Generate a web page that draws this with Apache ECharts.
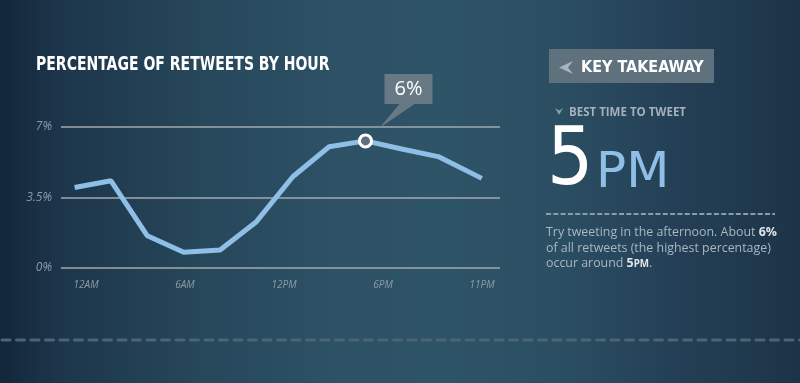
<!DOCTYPE html>
<html><head><meta charset="utf-8">
<script src="https://cdn.jsdelivr.net/npm/echarts@6/dist/echarts.min.js"></script>
<style>
html,body{margin:0;padding:0;background:#1d364a;}
#c{width:800px;height:383px;background:linear-gradient(to right,#13263a 0%,#1c354a 7%,#27475b 25%,#2d5165 42%,#2e5467 55%,#2b4e62 70%,#243f55 85%,#1c3447 100%);}
</style></head><body><div id="c"></div>
<script>
// ---- data ----
const hours = [0, 2, 4, 6, 8, 10, 12, 14, 16, 18, 20, 22.4];
const retweetPct = [4.0, 4.33, 1.6, 0.78, 0.89, 2.3, 4.53, 6.02, 6.31, 5.91, 5.53, 4.45];
const xTickLabels = ['12AM', '6AM', '12PM', '6PM', '11PM'];
const yTicks = [0, 3.5, 7];
const peakLabel = '6%';
const titleText = 'PERCENTAGE OF RETWEETS BY HOUR';

const COND = '"DejaVu Sans Condensed", "Liberation Sans Narrow", sans-serif';
const peakIdx = retweetPct.indexOf(Math.max(...retweetPct));
const lineData = hours.map((h, i) => i === peakIdx
  ? { value: [h, retweetPct[i]], symbol: 'circle', symbolSize: 12,
      itemStyle: { color: '#5f6f7b', borderColor: '#ffffff', borderWidth: 3 } }
  : [h, retweetPct[i]]);

const chart = echarts.init(document.getElementById('c'));
chart.setOption({
  animation: false,
  backgroundColor: 'transparent',
  grid: [
    { left: 61, right: 300, top: 127, bottom: 115 },
    { left: 86, right: 318, top: 127, bottom: 115 }
  ],
  xAxis: [
    { type: 'value', gridIndex: 0, min: -0.75, max: 23.4, show: false, splitLine: { show: false } },
    { type: 'category', gridIndex: 1, data: xTickLabels, boundaryGap: false,
      axisLine: { show: false }, axisTick: { show: false }, splitLine: { show: false },
      axisLabel: { color: '#8d9ba7', fontStyle: 'italic', fontFamily: 'Open Sans', fontSize: 10, margin: 12 } }
  ],
  yAxis: [
    { type: 'value', gridIndex: 0, min: yTicks[0], max: yTicks[yTicks.length - 1], interval: yTicks[1] - yTicks[0],
      axisLine: { show: false }, axisTick: { show: false },
      splitLine: { lineStyle: { color: '#a2a9af', width: 1.6 } },
      axisLabel: { formatter: v => v + '%', color: '#8f9ca8', fontStyle: 'italic', fontFamily: 'Open Sans', fontSize: 12, margin: 9 } },
    { type: 'value', gridIndex: 1, show: false, min: 0, max: 7, splitLine: { show: false } }
  ],
  series: [{
    type: 'line', xAxisIndex: 0, yAxisIndex: 0, data: lineData,
    symbol: 'none', silent: true,
    lineStyle: { color: '#8fbfe6', width: 5 },
    z: 3,
    markPoint: {
      silent: true,
      data: [{
        coord: [hours[peakIdx], retweetPct[peakIdx]],
        symbol: 'path://M0,0L48,0L48,30L30,30L-5,54L15,30L0,30Z',
        symbolSize: [53, 54],
        symbolOffset: [40.5, -40],
        itemStyle: { color: '#687986' },
        label: { show: true, formatter: peakLabel, position: 'inside', offset: [2.5, -12],
          color: '#ffffff', fontFamily: 'Open Sans', fontSize: 20 }
      }]
    }
  }],
  graphic: [
    // chart title
    { type: 'text', x: 36, y: 65, scaleX: 0.82, scaleY: 1,
      style: { text: titleText, x: 0, y: 0, fill: '#ffffff', textVerticalAlign: 'middle',
        font: 'bold 19px ' + COND } },
    // key takeaway box
    { type: 'rect', shape: { x: 549, y: 49, width: 165, height: 34 }, style: { fill: '#5f717d' } },
    { type: 'polygon', shape: { points: [[573, 61], [559, 67.5], [573, 74], [568, 67.5]] }, style: { fill: '#a9b5bd' } },
    { type: 'text', style: { text: 'KEY TAKEAWAY', x: 581, y: 68, fill: '#ffffff', textVerticalAlign: 'middle',
        font: 'bold 16px ' + COND } },
    { type: 'polygon', shape: { points: [[555, 108], [559, 115], [563, 108], [559, 110.5]] }, style: { fill: '#8e9ba5' } },
    { type: 'text', style: { text: 'BEST TIME TO TWEET', x: 569, y: 112.5, fill: '#a4b0ba', textVerticalAlign: 'middle',
        font: 'bold 11.5px "Open Sans"' } },
    { type: 'text', style: { text: '5', x: 547, y: 163, fill: '#ffffff', textVerticalAlign: 'middle',
        font: '81px ' + COND } },
    { type: 'text', style: { text: 'PM', x: 596, y: 174, fill: '#8fbfe6', textVerticalAlign: 'middle',
        font: '50px "DejaVu Sans", sans-serif' } },
    { type: 'line', shape: { x1: 546, y1: 214, x2: 775, y2: 214 }, style: { stroke: '#8f9ba5', lineWidth: 2, lineDash: [5, 2.3] } },
    { type: 'text', style: {
        text: 'Try tweeting in the afternoon. About {b|6%}\nof all retweets (the highest percentage)\noccur around {b|5}{s|PM}.',
        x: 546, y: 225, fill: '#a9b7c1', textVerticalAlign: 'top',
        font: '12.4px "Open Sans"', lineHeight: 15.5,
        rich: {
          b: { fontWeight: 'bold', fontFamily: 'Open Sans', fontSize: 12.4, fill: '#dfe6eb', lineHeight: 15.5 },
          s: { fontWeight: 'bold', fontFamily: 'Open Sans', fontSize: 9.8, fill: '#dfe6eb', lineHeight: 15.5 }
        } } },
    // bottom dashed rule
    { type: 'line', shape: { x1: 2, y1: 340, x2: 800, y2: 340 }, style: { stroke: '#4b6575', lineWidth: 3, lineCap: 'round', lineDash: [8, 6.5] } }
  ]
});
</script></body></html>
